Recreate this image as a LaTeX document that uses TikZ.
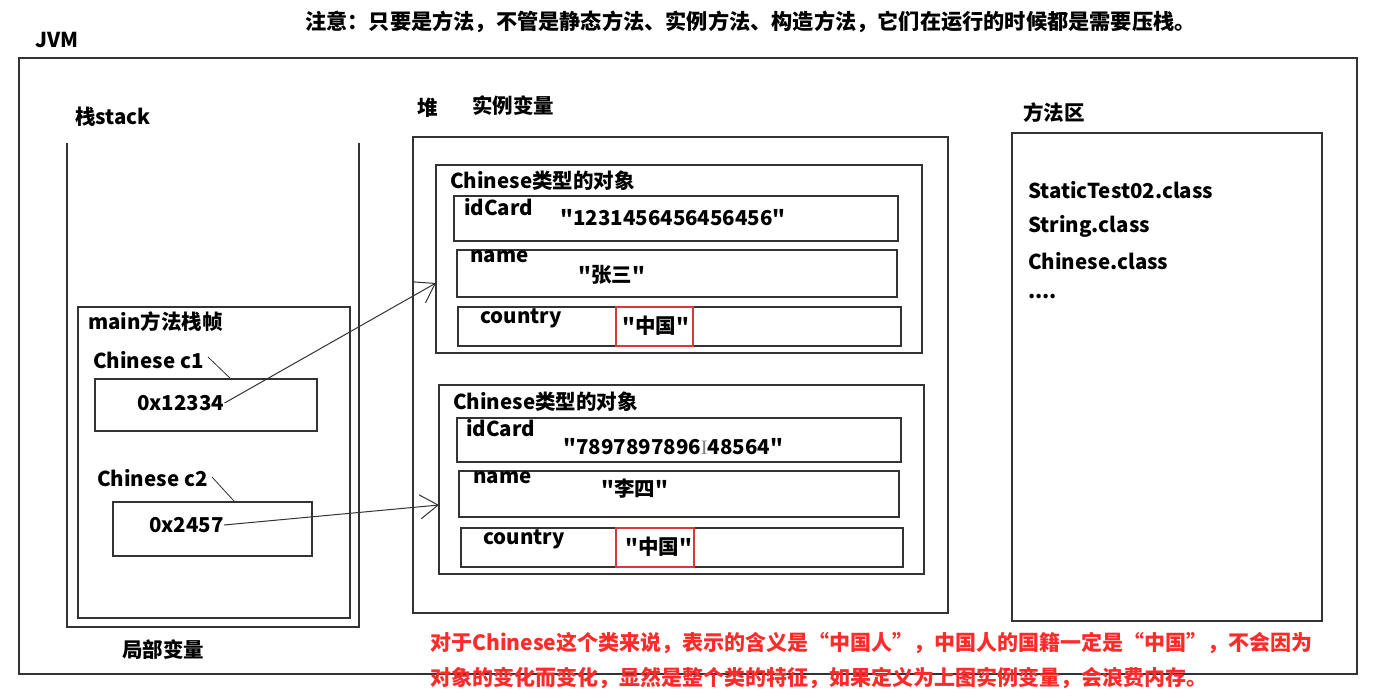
\documentclass[tikz,border=0pt]{standalone}
\usepackage{fontspec}
\setmainfont{Noto Sans CJK SC}[Ligatures=TeXOff]
\newfontfamily\curfont{Liberation Serif}
\usetikzlibrary{arrows.meta}
\definecolor{ln}{HTML}{333333}
\definecolor{redtxt}{HTML}{FF2A2A}
\definecolor{redbox}{HTML}{D43A3A}
\tikzset{
 box/.style={draw=ln, line width=1.4pt, anchor=north west, inner sep=0pt, outer sep=0pt},
 redframe/.style={box, draw=redbox, line width=1.2pt},
 lbl/.style={anchor=west, inner sep=0pt, font=\fontsize{20.5}{24}\selectfont\bfseries},
 note/.style={lbl, font=\fontsize{21.2}{24}\selectfont\bfseries},
 rnote/.style={lbl, text=redtxt, font=\fontsize{21}{24}\selectfont\bfseries},
 ptr/.style={draw=ln, line width=1pt, -{Straight Barb[length=18pt,width=24pt,line width=1pt]}},
 lead/.style={draw=ln, line width=0.8pt},
 wall/.style={draw=ln, line width=1.4pt},
}
\begin{document}
\begin{tikzpicture}[x=1pt,y=-1pt]
\useasboundingbox (0,0) rectangle (1389,697);
\fill[white] (0,0) rectangle (1389,697);

% titles
\node[lbl] (jvm) at (35,40) {JVM};
\node[note] (topnote) at (305,22) {注意：只要是方法，不管是静态方法、实例方法、构造方法，它们在运行的时候都是需要压栈。};

% outer JVM box
\node[box, minimum width=1338pt, minimum height=616pt] (outer) at (19,58) {};

% stack
\node[lbl] (stacklbl) at (75,117) {栈stack};
\coordinate (sA) at (67,143);
\coordinate (sB) at (67,627);
\coordinate (sC) at (359,627);
\coordinate (sD) at (359,143);
\draw[wall] (sA) -- (sB) -- (sC) -- (sD);
\node[box, minimum width=272pt, minimum height=311pt] (frame) at (78,307) {};
\node[lbl] (framelbl) at (88,322) {main方法栈帧};
\node[lbl] (c1lbl) at (93,360) {Chinese c1};
\node[box, minimum width=222pt, minimum height=52pt] (c1box) at (95,379) {};
\node[lbl] (v1) at (137,403) {0x12334};
\node[lbl] (c2lbl) at (97,478) {Chinese c2};
\node[box, minimum width=199pt, minimum height=54pt] (c2box) at (113,502) {};
\node[lbl] (v2) at (149,525) {0x2457};
\node[lbl] (locallbl) at (122,650) {局部变量};
\coordinate (l1a) at (208,357);
\coordinate (l1b) at (232,380);
\coordinate (l2a) at (212,477);
\coordinate (l2b) at (234,501);
\draw[lead] (l1a) -- (l1b);
\draw[lead] (l2a) -- (l2b);

% heap
\node[lbl] (heaplbl) at (417,108) {堆};
\node[lbl] (instlbl) at (472,106) {实例变量};
\node[box, minimum width=535pt, minimum height=476pt] (heap) at (413,137) {};

% object 1
\node[box, minimum width=486pt, minimum height=188pt] (obj1) at (436,165) {};
\node[lbl] (o1lbl) at (450,181) {Chinese类型的对象};
\node[box, minimum width=444pt, minimum height=45pt] (id1) at (454,196) {};
\node[lbl] (id1lbl) at (464,207) {idCard};
\node[lbl] (id1val) at (560,218) {"1231456456456456"};
\node[box, minimum width=440pt, minimum height=47pt] (nm1) at (457,250) {};
\node[lbl] (nm1lbl) at (470,257) {name};
\node[lbl] (nm1val) at (578,275) {"张三"};
\node[box, minimum width=443pt, minimum height=39pt] (co1) at (458,307) {};
\node[lbl] (co1lbl) at (480,318) {country};
\node[redframe, minimum width=77pt, minimum height=39pt] (red1) at (616,307) {};
\node[lbl] (co1val) at (622,326) {"中国"};

% object 2
\node[box, minimum width=485pt, minimum height=189pt] (obj2) at (439,385) {};
\node[lbl] (o2lbl) at (453,402) {Chinese类型的对象};
\node[box, minimum width=444pt, minimum height=44pt] (id2) at (457,418) {};
\node[lbl] (id2lbl) at (466,428) {idCard};
\node[lbl] (id2val) at (563,447) {"7897897896{\color{gray}\curfont\mdseries I}48564"};
\node[box, minimum width=440pt, minimum height=46pt] (nm2) at (459,471) {};
\node[lbl] (nm2lbl) at (473,478) {name};
\node[lbl] (nm2val) at (601,489) {"李四"};
\node[box, minimum width=442pt, minimum height=39pt] (co2) at (461,528) {};
\node[lbl] (co2lbl) at (483,539) {country};
\node[redframe, minimum width=78pt, minimum height=39pt] (red2) at (616,528) {};
\node[lbl] (co2val) at (625,547) {"中国"};

% method area
\node[lbl] (malbl) at (1023,113) {方法区};
\node[box, minimum width=310pt, minimum height=488pt] (ma) at (1012,133) {};
\node[lbl] (m1) at (1028,190) {StaticTest02.class};
\node[lbl] (m2) at (1028,226) {String.class};
\node[lbl] (m3) at (1028,261) {Chinese.class};
\node[lbl] (m4) at (1028,297) {....};

% pointers
\coordinate (t1) at (436,283);
\coordinate (t2) at (439,505);
\draw[ptr] (v1.east) -- (t1);
\draw[ptr] (v2.east) -- (t2);

% red remark
\node[rnote] (r1) at (430,643) {对于Chinese这个类来说，表示的含义是“中国人”，中国人的国籍一定是“中国”，不会因为};
\node[rnote] (r2) at (430,678) {对象的变化而变化，显然是整个类的特征，如果定义为上图实例变量，会浪费内存。};
\end{tikzpicture}
\end{document}
